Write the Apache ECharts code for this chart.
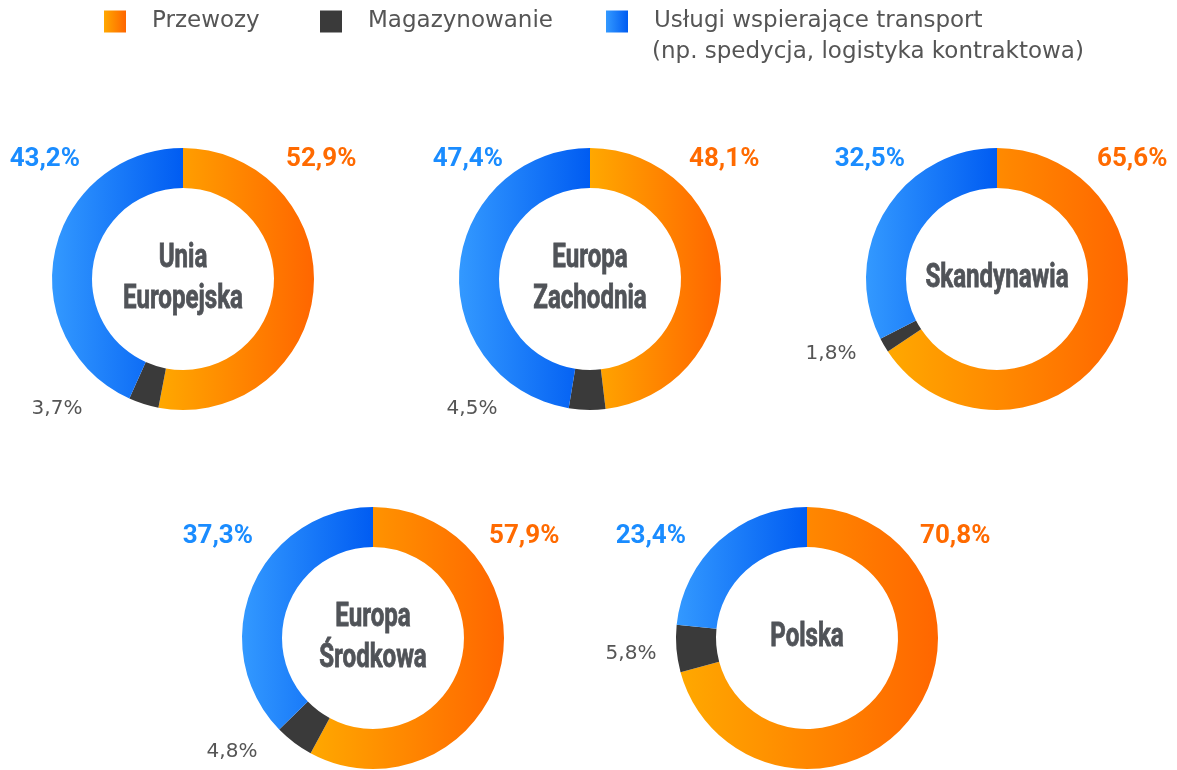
<!DOCTYPE html>
<html>
<head>
<meta charset="utf-8">
<script src="https://cdn.jsdelivr.net/npm/echarts@6/dist/echarts.min.js"></script>
<style>
  html, body { margin: 0; padding: 0; background: #fff; }
  #chart { width: 1177px; height: 770px; }
</style>
</head>
<body>
<div id="chart"></div>
<script>
// dane
const regions = ['Unia\nEuropejska', 'Europa\nZachodnia', 'Skandynawia', 'Europa\nŚrodkowa', 'Polska'];
const categories = ['Przewozy', 'Magazynowanie', 'Usługi wspierające transport'];
const categoryNote = '(np. spedycja, logistyka kontraktowa)';
const przewozy = [52.9, 48.1, 65.6, 57.9, 70.8];
const magazynowanie = [3.7, 4.5, 1.8, 4.8, 5.8];
const uslugi = [43.2, 47.4, 32.5, 37.3, 23.4];

// rozmieszczenie wykresów i etykiet
const layout = [
  { c: [183, 279], blueX: 80, orangeX: 286, labY: 159, dark: [57, 409] },
  { c: [590, 279], blueX: 503, orangeX: 689, labY: 159, dark: [472, 409] },
  { c: [997, 279], blueX: 905, orangeX: 1097, labY: 159, dark: [831, 354] },
  { c: [373, 638], blueX: 253, orangeX: 489, labY: 536, dark: [232, 752] },
  { c: [807, 638], blueX: 686, orangeX: 920, labY: 536, dark: [631, 654] }
];

const grad = (a, b) => new echarts.graphic.LinearGradient(0, 0, 1, 0, [
  { offset: 0, color: a },
  { offset: 1, color: b }
]);
const colors = [grad('#ffa800', '#ff6600'), '#3a3a3a', grad('#3399ff', '#005cf2')];

const fmt = v => v.toFixed(1).replace('.', ',') + '%';
const labelFont = '"Roboto", "Noto Sans", sans-serif';
const textFont = '"DejaVu Sans", "Noto Sans", sans-serif';

const series = regions.map((r, i) => ({
  type: 'pie',
  center: layout[i].c,
  radius: [91, 131],
  startAngle: 90,
  clockwise: true,
  silent: true,
  label: { show: false },
  labelLine: { show: false },
  emphasis: { disabled: true },
  data: [
    { name: categories[0], value: przewozy[i], itemStyle: { color: colors[0] } },
    { name: categories[1], value: magazynowanie[i], itemStyle: { color: colors[1] } },
    { name: categories[2], value: uslugi[i], itemStyle: { color: colors[2] } }
  ]
}));

const graphic = [];
regions.forEach((r, i) => {
  const L = layout[i];
  // nazwa regionu w środku (zwężona)
  graphic.push({
    type: 'text', x: L.c[0], y: L.c[1], scaleX: 0.73, silent: true,
    style: {
      text: r, fill: '#505358', stroke: '#505358', lineWidth: 0.8,
      font: 'bold 33px ' + labelFont, align: 'center', verticalAlign: 'middle', lineHeight: 41
    }
  });
  graphic.push({
    type: 'text', x: L.blueX, y: L.labY, silent: true,
    style: { text: fmt(uslugi[i]), fill: '#1a8cff', font: 'bold 26px ' + labelFont, align: 'right', verticalAlign: 'middle' }
  });
  graphic.push({
    type: 'text', x: L.orangeX, y: L.labY, silent: true,
    style: { text: fmt(przewozy[i]), fill: '#ff6a00', font: 'bold 26px ' + labelFont, align: 'left', verticalAlign: 'middle' }
  });
  graphic.push({
    type: 'text', x: L.dark[0], y: L.dark[1], silent: true,
    style: { text: fmt(magazynowanie[i]), fill: '#555555', font: '20px ' + textFont, align: 'center', verticalAlign: 'middle' }
  });
});
// druga linia legendy
graphic.push({
  type: 'text', x: 652, y: 52, silent: true,
  style: { text: categoryNote, fill: '#555555', font: '23px ' + textFont, align: 'left', verticalAlign: 'middle' }
});

const legendBase = {
  orient: 'horizontal',
  top: 10,
  padding: 0,
  icon: 'rect',
  itemWidth: 22,
  itemHeight: 22,
  selectedMode: false,
  textStyle: { color: '#555555', fontSize: 23, fontFamily: textFont, padding: [0, 0, 0, 21] }
};

const chart = echarts.init(document.getElementById('chart'));
chart.setOption({
  animation: false,
  legend: [
    Object.assign({}, legendBase, { left: 104, data: [categories[0]] }),
    Object.assign({}, legendBase, { left: 320, data: [categories[1]] }),
    Object.assign({}, legendBase, { left: 606, data: [categories[2]] })
  ],
  graphic: graphic,
  series: series
});
</script>
</body>
</html>
